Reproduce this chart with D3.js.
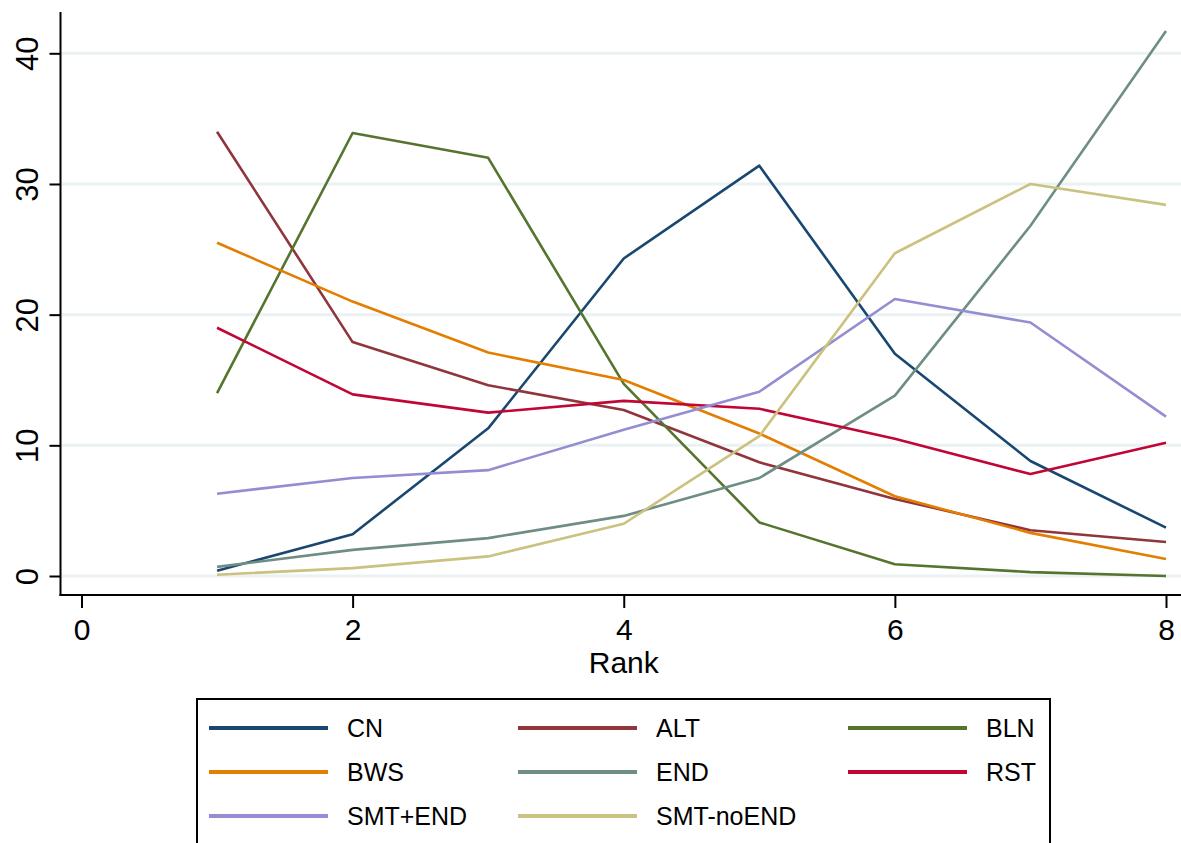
<!DOCTYPE html>
<html><head><meta charset="utf-8">
<script src="https://cdn.jsdelivr.net/npm/d3@7"></script>
<style>
html,body{margin:0;padding:0;background:#fff;}
svg{display:block;font-family:"Liberation Sans",Arial,Helvetica,sans-serif;}
</style></head>
<body>
<svg id="chart" width="1181" height="843"></svg>
<script>
const ranks = [1,2,3,4,5,6,7,8];
const seriesNames = ["CN","ALT","BLN","BWS","END","RST","SMT+END","SMT-noEND"];
const seriesColors = ["#1a476f","#90353b","#55752f","#e37e00","#6e8e84","#c10534","#938dd2","#cac27e"];
const CN        = [0.4, 3.2, 11.3, 24.3, 31.4, 17.0, 8.8, 3.7];
const ALT       = [34.0, 17.9, 14.6, 12.7, 8.7, 5.9, 3.5, 2.6];
const BLN       = [14.0, 33.9, 32.0, 14.7, 4.1, 0.9, 0.3, 0.0];
const BWS       = [25.5, 21.0, 17.1, 15.0, 10.9, 6.1, 3.3, 1.3];
const END       = [0.7, 2.0, 2.9, 4.6, 7.5, 13.8, 26.8, 41.7];
const RST       = [19.0, 13.9, 12.5, 13.4, 12.8, 10.5, 7.8, 10.2];
const SMT_END   = [6.3, 7.5, 8.1, 11.2, 14.1, 21.2, 19.4, 12.2];
const SMT_noEND = [0.1, 0.6, 1.5, 4.0, 10.7, 24.7, 30.0, 28.4];
const seriesValues = [CN, ALT, BLN, BWS, END, RST, SMT_END, SMT_noEND];
const xTicks = [0,2,4,6,8];
const yTicks = [0,10,20,30,40];
const xTitle = "Rank";

const svg = d3.select("#chart");
const x = d3.scaleLinear().domain([0,8]).range([81.5,1166]);
const y = d3.scaleLinear().domain([0,40]).range([576,53.3]);
const axisX0 = 60.5, axisY0 = 595, plotTop = 12, plotRight = 1181;

// gridlines
svg.append("g").selectAll("line").data(yTicks).join("line")
  .attr("x1", axisX0).attr("x2", plotRight)
  .attr("y1", d=>y(d)).attr("y2", d=>y(d))
  .attr("stroke","#eaf2f3").attr("stroke-width",3);

// series lines
const line = d3.line().x((d,i)=>x(ranks[i])).y(d=>y(d));
svg.append("g").selectAll("path").data(seriesValues).join("path")
  .attr("d", d=>line(d)).attr("fill","none")
  .attr("stroke",(d,i)=>seriesColors[i]).attr("stroke-width",2.6)
  .attr("stroke-linejoin","round");

// y axis
const yAxis = svg.append("g").attr("transform",`translate(${axisX0},0)`)
  .call(d3.axisLeft(y).tickValues(yTicks).tickSize(11).tickPadding(0).tickSizeOuter(0));
yAxis.select(".domain").remove();
yAxis.append("line").attr("x1",0).attr("x2",0).attr("y1",plotTop).attr("y2",axisY0+1)
  .attr("stroke","#000").attr("stroke-width",2);
yAxis.selectAll(".tick line").attr("stroke","#000").attr("stroke-width",2);
yAxis.selectAll(".tick text")
  .attr("font-size",31).attr("fill","#000")
  .attr("text-anchor","middle")
  .attr("x",0).attr("dy",0)
  .attr("transform","translate(-23,0) rotate(-90)")
  .attr("y",0);

// x axis
const xAxis = svg.append("g").attr("transform",`translate(0,${axisY0})`)
  .call(d3.axisBottom(x).tickValues(xTicks).tickSize(13).tickPadding(0).tickSizeOuter(0));
xAxis.select(".domain").remove();
xAxis.append("line").attr("x1",axisX0-1).attr("x2",plotRight).attr("y1",0).attr("y2",0)
  .attr("stroke","#000").attr("stroke-width",2);
xAxis.selectAll(".tick line").attr("stroke","#000").attr("stroke-width",2);
xAxis.selectAll(".tick text").attr("font-size",30).attr("fill","#000")
  .attr("y",45).attr("dy",0);

svg.append("text").attr("x",(x(4))).attr("y",673).attr("text-anchor","middle")
  .attr("font-size",30).attr("fill","#000").text(xTitle);

// legend
const legendColX = [209, 518, 848];
const lg = svg.append("g");
lg.append("rect").attr("x",197).attr("y",699).attr("width",853).attr("height",170)
  .attr("fill","#fff").attr("stroke","#000").attr("stroke-width",2);
const items = lg.selectAll("g.item").data(seriesNames).join("g")
  .attr("transform",(d,i)=>`translate(${legendColX[i%3]},${728 + Math.floor(i/3)*44})`);
items.append("line").attr("x1",0).attr("x2",119).attr("y1",0).attr("y2",0)
  .attr("stroke",(d,i)=>seriesColors[i]).attr("stroke-width",4);
items.append("text").attr("x",138).attr("y",9).attr("font-size",25).attr("fill","#000")
  .text(d=>d);
</script>
</body></html>
